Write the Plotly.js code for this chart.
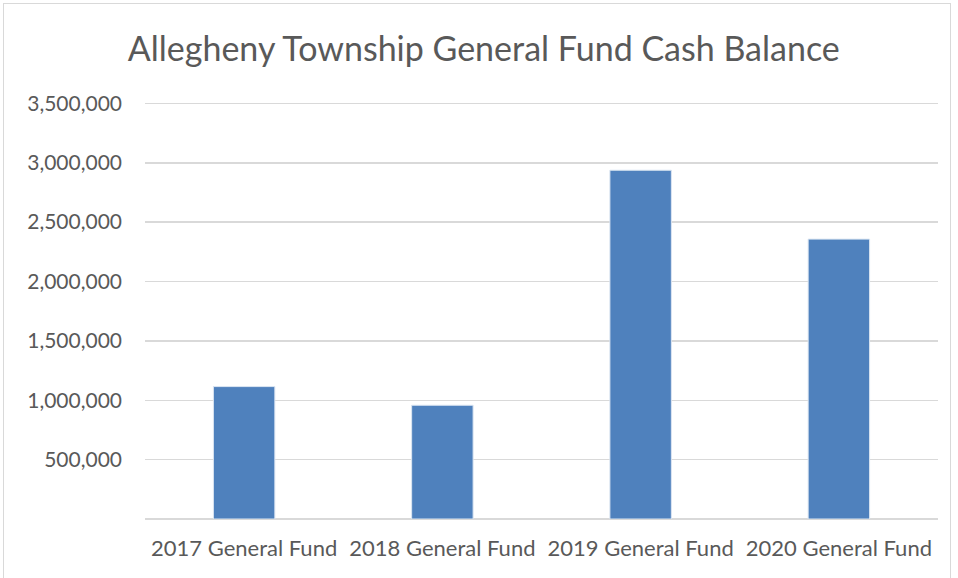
<!DOCTYPE html>
<html>
<head>
<meta charset="utf-8">
<script src="https://cdn.plot.ly/plotly-3.0.1.min.js"></script>
<style>
html,body{margin:0;padding:0;background:#fff;}
#frame{position:absolute;left:3px;top:3px;width:948px;height:580px;border:1px solid #d9d9d9;box-sizing:border-box;}
#chart{position:absolute;left:0;top:0;width:958px;height:578px;}
</style>
</head>
<body>
<div id="frame"></div>
<div id="chart"></div>
<script>
const categories = ["2017 General Fund", "2018 General Fund", "2019 General Fund", "2020 General Fund"];
const cashBalance = [1115000, 958000, 2937000, 2357000];
const yTickVals = [500000, 1000000, 1500000, 2000000, 2500000, 3000000, 3500000];
const yTickText = ["500,000", "1,000,000", "1,500,000", "2,000,000", "2,500,000", "3,000,000", "3,500,000"];

const fontFam = "Lato, 'Open Sans', sans-serif";
Plotly.newPlot("chart", [{
  type: "bar",
  x: categories,
  y: cashBalance,
  marker: {color: "#4f81bd", line: {color: "#dce6f2", width: 1}},
  hoverinfo: "x+y"
}], {
  width: 958, height: 578,
  paper_bgcolor: "rgba(0,0,0,0)",
  plot_bgcolor: "rgba(0,0,0,0)",
  margin: {l: 145, r: 20, t: 101, b: 59},
  bargap: 0.69,
  showlegend: false,
  title: {text: "Allegheny Township General Fund Cash Balance", x: 0.505, xanchor: "center", y: 0.915, yanchor: "middle",
          font: {family: fontFam, size: 34, color: "#595959"}},
  xaxis: {
    showgrid: false, showline: false, ticks: "", zeroline: false,
    tickfont: {family: fontFam, size: 22, color: "#595959"},
    ticklabelstandoff: 14
  },
  yaxis: {
    range: [0, 3520000], tickvals: yTickVals, ticktext: yTickText,
    showgrid: true, gridcolor: "#d9d9d9", gridwidth: 1.5,
    zeroline: true, zerolinecolor: "#d9d9d9", zerolinewidth: 1.5,
    showline: false, ticks: "",
    tickfont: {family: fontFam, size: 21, color: "#595959"},
    ticklabelstandoff: 22
  }
}, {displayModeBar: false, staticPlot: true});
</script>
</body>
</html>
